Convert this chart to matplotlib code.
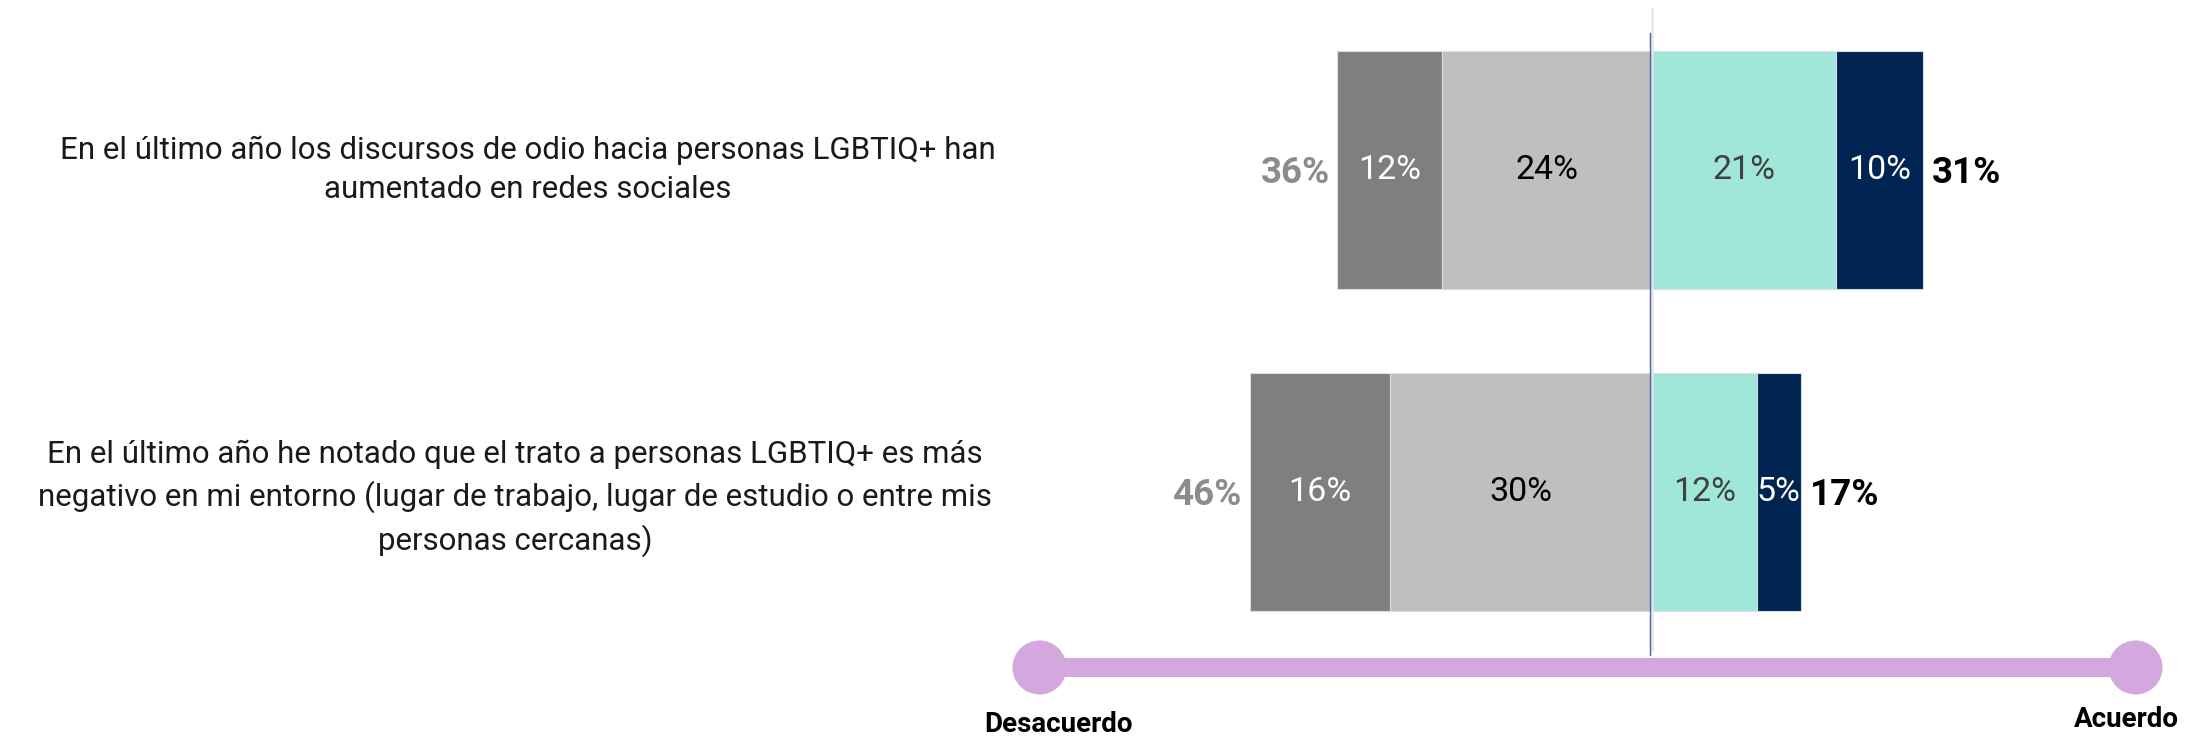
import matplotlib
matplotlib.use("Agg")
import matplotlib.pyplot as plt
import matplotlib.transforms as mtransforms

# ---------------- data ----------------
categories = [
    "En el último año los discursos de odio hacia personas LGBTIQ+ han\naumentado en redes sociales",
    "En el último año he notado que el trato a personas LGBTIQ+ es más\nnegativo en mi entorno (lugar de trabajo, lugar de estudio o entre mis\npersonas cercanas)",
]
muy_desacuerdo = [12, 16]
desacuerdo = [24, 30]
acuerdo = [21, 12]
muy_acuerdo = [10, 5]
scale_labels = ["Desacuerdo", "Acuerdo"]

# ---------------- style ----------------
C_MD = "#7F7F7F"
C_D = "#BFBFBF"
C_A = "#A0E6D9"
C_MA = "#002452"
PINK = "#D5A7DF"
FONT = ["Roboto", "DejaVu Sans"]

W, H, DPI = 2200, 737, 100
fig = plt.figure(figsize=(W / DPI, H / DPI), dpi=DPI)
fig.patch.set_facecolor("white")
ax = fig.add_axes([0, 0, 1, 1])
ax.set_axis_off()

px_per_pct = 8.75
x0_px = 1652
ax.set_xlim(-x0_px / px_per_pct, (W - x0_px) / px_per_pct)
row_px = 322.0
y0_px = 170.0
ax.set_ylim((H - y0_px) / row_px, -y0_px / row_px)

ypos = list(range(len(categories)))
bh = 238 / row_px
edge = dict(edgecolor="#D8DDE6", linewidth=0.8)

left_md = [-(a + b) for a, b in zip(muy_desacuerdo, desacuerdo)]
left_d = [-b for b in desacuerdo]
ax.barh(ypos, muy_desacuerdo, left=left_md, height=bh, color=C_MD, **edge, zorder=2)
ax.barh(ypos, desacuerdo, left=left_d, height=bh, color=C_D, **edge, zorder=2)
ax.barh(ypos, acuerdo, left=0, height=bh, color=C_A, **edge, zorder=2)
ax.barh(ypos, muy_acuerdo, left=acuerdo, height=bh, color=C_MA, **edge, zorder=2)

lab_fs = 24.5
tot_fs = 26.5
for i in ypos:
    md, d, a, ma = muy_desacuerdo[i], desacuerdo[i], acuerdo[i], muy_acuerdo[i]
    kw = dict(ha="center", va="center", fontsize=lab_fs, family=FONT,
              fontweight="normal", zorder=4)
    ax.text(-(d + md / 2), i, f"{md}%", color="white", **kw)
    ax.text(-d / 2, i, f"{d}%", color="black", **kw)
    ax.text(a / 2, i, f"{a}%", color="#404040", **kw)
    ax.text(a + ma / 2, i, f"{ma}%", color="white", **kw)
    neg = md + d
    pos = a + ma
    ax.text(-neg - 0.8, i + 0.01, f"{neg}%", ha="right", va="center", color="#8C8C8C",
            fontsize=tot_fs, fontweight="bold", family=FONT, zorder=4)
    ax.text(pos + 1.0, i + 0.01, f"{pos}%", ha="left", va="center", color="black",
            fontsize=tot_fs, fontweight="bold", family=FONT, zorder=4)

# question labels
trans = mtransforms.blended_transform_factory(fig.transFigure, ax.transData)
q_x = [528 / W, 515 / W]
q_dy = [0.0, 0.02]
for i, q in enumerate(categories):
    ax.text(q_x[i], i + q_dy[i], q, transform=trans, ha="center", va="center",
            fontsize=22.5, family=FONT, color="#1A1A1A", linespacing=1.45)

# centre lines
ax.axvline(0, ymin=1 - 650 / H, ymax=1 - 9 / H, color="#E6E6E6", lw=1.8, zorder=3)
ax.axvline(-2 / px_per_pct, ymin=1 - 655 / H, ymax=1 - 33 / H, color="#4F5FA8", lw=1.0, zorder=5)

# agreement scale
fx = [1039 / W, 2135 / W]
fy = 1 - 666.5 / H
fig.add_artist(plt.Line2D(fx, [fy, fy], transform=fig.transFigure, color=PINK,
                          lw=19 * 72 / DPI, solid_capstyle="butt"))
fig.add_artist(plt.Line2D(fx, [fy, fy], transform=fig.transFigure, color=PINK, lw=0,
                          marker="o", markersize=54 * 72 / DPI, markeredgewidth=0))
fig.text(1058 / W, 1 - 732 / H, scale_labels[0], ha="center", va="baseline",
         fontsize=20, fontweight="bold", family=FONT, color="black")
fig.text(2126 / W, 1 - 727 / H, scale_labels[1], ha="center", va="baseline",
         fontsize=20, fontweight="bold", family=FONT, color="black")

fig.savefig("out.png", dpi=DPI, facecolor="white")
